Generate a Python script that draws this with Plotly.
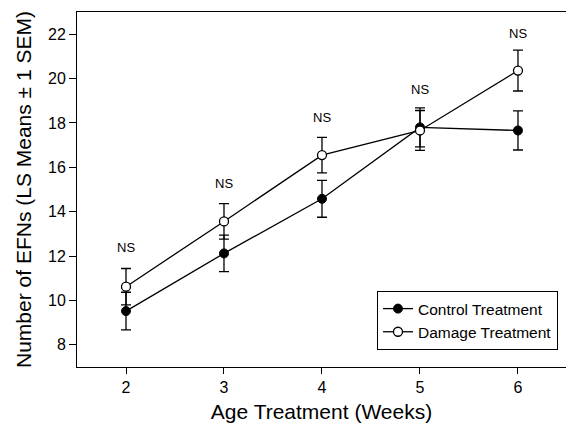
import plotly.graph_objects as go

weeks = [2, 3, 4, 5, 6]
control_mean = [9.52, 12.12, 14.58, 17.80, 17.66]
control_sem = [0.85, 0.82, 0.83, 0.88, 0.88]
damage_mean = [10.62, 13.56, 16.55, 17.66, 20.36]
damage_sem = [0.82, 0.80, 0.80, 0.90, 0.92]
ns_labels = ["NS", "NS", "NS", "NS", "NS"]
ns_y = [12.38, 15.28, 18.25, 19.52, 22.05]

FONT = "Liberation Sans, Arial, sans-serif"

fig = go.Figure()
fig.add_trace(go.Scatter(
    x=weeks, y=control_mean, mode="lines+markers", name="Control Treatment",
    line=dict(color="black", width=1.3),
    marker=dict(symbol="circle", size=9, color="black", line=dict(color="black", width=1)),
    error_y=dict(type="data", array=control_sem, visible=True, color="black", thickness=1.3, width=5),
))
fig.add_trace(go.Scatter(
    x=weeks, y=damage_mean, mode="lines+markers", name="Damage Treatment",
    line=dict(color="black", width=1.3),
    marker=dict(symbol="circle", size=9, color="white", line=dict(color="black", width=1.3)),
    error_y=dict(type="data", array=damage_sem, visible=True, color="black", thickness=1.3, width=5),
))

for xv, yv, t in zip(weeks, ns_y, ns_labels):
    fig.add_annotation(x=xv, y=yv, text=t, showarrow=False,
                       font=dict(family=FONT, size=13, color="black"))

fig.update_layout(
    width=566, height=425,
    margin=dict(l=77, r=0, t=12, b=58),
    paper_bgcolor="white", plot_bgcolor="white",
    font=dict(family=FONT, color="black"),
    showlegend=True,
    legend=dict(
        x=0.9836, xanchor="right", y=0.214, yanchor="top",
        bordercolor="black", borderwidth=1, bgcolor="white",
        font=dict(family=FONT, size=15.5, color="black"),
        tracegroupgap=0, itemwidth=30,
    ),
    xaxis=dict(
        range=[1.5, 6.49], tickvals=weeks, ticktext=[str(w) for w in weeks],
        showgrid=False, zeroline=False, showline=True, linecolor="black", linewidth=1,
        mirror=True, ticks="outside", ticklen=6, tickcolor="black",
        tickfont=dict(family=FONT, size=16, color="black"),
        title=dict(text="Age Treatment (Weeks)", font=dict(family=FONT, size=21, color="black"), standoff=9),
    ),
    yaxis=dict(
        range=[7, 23], tickvals=[8, 10, 12, 14, 16, 18, 20, 22],
        showgrid=False, zeroline=False, showline=True, linecolor="black", linewidth=1,
        ticks="outside", ticklen=7, tickcolor="black",
        tickfont=dict(family=FONT, size=16, color="black"),
        title=dict(text="Number of EFNs (LS Means \u00b1 1 SEM)", font=dict(family=FONT, size=21, color="black"), standoff=10),
    ),
)

fig.write_html(
    "out.html",
    config={"displayModeBar": False},
    post_script="document.body.style.margin='0';document.body.style.overflow='hidden';",
)
